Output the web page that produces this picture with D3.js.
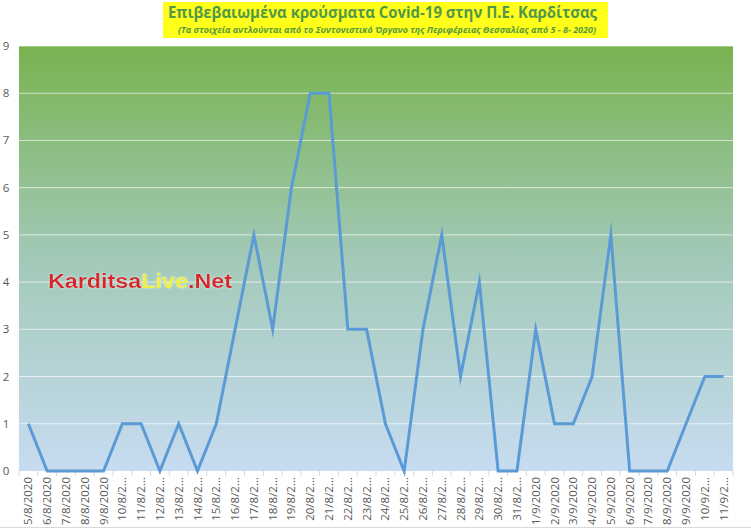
<!DOCTYPE html>
<html><head><meta charset="utf-8">
<script src="https://cdn.jsdelivr.net/npm/d3@7"></script>
<style>body{margin:0;background:#fff;}svg{display:block;font-family:"Open Sans",Calibri,"Liberation Sans",sans-serif;}</style>
</head><body>
<svg id="c" width="751" height="530"></svg>
<script>
const dates = ["5/8/2020","6/8/2020","7/8/2020","8/8/2020","9/8/2020","10/8/2...","11/8/2...","12/8/2...","13/8/2...","14/8/2...","15/8/2...","16/8/2...","17/8/2...","18/8/2...","19/8/2...","20/8/2...","21/8/2...","22/8/2...","23/8/2...","24/8/2...","25/8/2...","26/8/2...","27/8/2...","28/8/2...","29/8/2...","30/8/2...","31/8/2...","1/9/2020","2/9/2020","3/9/2020","4/9/2020","5/9/2020","6/9/2020","7/9/2020","8/9/2020","9/9/2020","10/9/2...","11/9/2..."];
const cases = [1,0,0,0,0,1,1,0,1,0,1,3,5,3,6,8,8,3,3,1,0,3,5,2,4,0,0,3,1,1,2,5,0,0,0,1,2,2];
const yTicks = [0,1,2,3,4,5,6,7,8,9];
const titleText = "Επιβεβαιωμένα κρούσματα Covid-19 στην Π.Ε. Καρδίτσας";
const subtitleText = "(Τα στοιχεία αντλούνται από το Συντονιστικό Όργανο της Περιφέρειας Θεσσαλίας από 5 - 8- 2020)";

const svg = d3.select("#c");
const L = 19, R = 733, T = 46, B = 471;
const x = d3.scaleBand().domain(dates).range([L, R]);
const y = d3.scaleLinear().domain([0, 9]).range([B, T]);

const defs = svg.append("defs");
const g = defs.append("linearGradient").attr("id","bg").attr("x1",0).attr("y1",0).attr("x2",0).attr("y2",1);
g.append("stop").attr("offset","0%").attr("stop-color","#78b350");
g.append("stop").attr("offset","50%").attr("stop-color","#a2c9b8");
g.append("stop").attr("offset","100%").attr("stop-color","#c7dcf1");
const sh = defs.append("filter").attr("id","glow").attr("x","-10%").attr("y","-30%").attr("width","120%").attr("height","160%");
sh.append("feGaussianBlur").attr("in","SourceAlpha").attr("stdDeviation",1.2).attr("result","b");
sh.append("feFlood").attr("flood-color","#ffffff").attr("flood-opacity",0.7);
sh.append("feComposite").attr("in2","b").attr("operator","in").attr("result","s");
const fm = sh.append("feMerge"); fm.append("feMergeNode").attr("in","s"); fm.append("feMergeNode").attr("in","SourceGraphic");

// plot background
svg.append("rect").attr("x",L).attr("y",T).attr("width",R-L).attr("height",B-T).attr("fill","url(#bg)");

// gridlines
svg.append("g").selectAll("line").data(yTicks.filter(d=>d>0)).join("line")
  .attr("x1",L).attr("x2",R).attr("y1",d=>y(d)).attr("y2",d=>y(d))
  .attr("stroke","#ffffff").attr("stroke-opacity",0.65).attr("stroke-width",1);

// y labels
svg.append("g").selectAll("text").data(yTicks).join("text")
  .attr("x",6).attr("y",d=>y(d)+4).attr("text-anchor","middle")
  .attr("font-size",11.5).attr("fill","#595959").text(d=>d);

// x tick marks at band boundaries
const bounds = dates.map(d=>x(d)).concat([R]);
svg.append("g").selectAll("line").data(bounds).join("line")
  .attr("x1",d=>d).attr("x2",d=>d).attr("y1",B).attr("y2",B+5)
  .attr("stroke","#d9d9d9").attr("stroke-width",1);

// x labels
svg.append("g").selectAll("text").data(dates).join("text")
  .attr("transform",d=>`translate(${x(d)+x.bandwidth()/2+4},${B+6}) rotate(-90)`)
  .attr("text-anchor","end").attr("font-size",11.5).attr("fill","#595959").text(d=>d);

// line
const line = d3.line().x((d,i)=>x(dates[i])+x.bandwidth()/2).y(d=>y(d));
svg.append("path").datum(cases).attr("d",line).attr("fill","none")
  .attr("stroke","#5b9bd5").attr("stroke-width",3).attr("stroke-linejoin","miter").attr("stroke-miterlimit",10);

// bottom border
svg.append("line").attr("x1",0).attr("x2",751).attr("y1",527.5).attr("y2",527.5).attr("stroke","#d9d9d9");

// title box
svg.append("rect").attr("x",163).attr("y",2).attr("width",445).attr("height",36).attr("fill","#ffff1a");
svg.append("text").attr("x",168).attr("y",18).attr("font-size",16).attr("font-weight","bold")
  .attr("fill","#52984a").attr("textLength",429).attr("lengthAdjust","spacingAndGlyphs").text(titleText);
svg.append("text").attr("x",178).attr("y",32.5).attr("font-size",9.5).attr("font-weight","bold").attr("font-style","italic")
  .attr("fill","#5a9b3c").attr("textLength",418).attr("lengthAdjust","spacingAndGlyphs").text(subtitleText);

// watermark
const wm = svg.append("text").attr("x",48).attr("y",288).attr("font-size",20).attr("font-weight","bold")
  .attr("font-family","'Liberation Sans',Arial,sans-serif").attr("filter","url(#glow)")
  .attr("textLength",184).attr("lengthAdjust","spacingAndGlyphs");
wm.append("tspan").attr("fill","#d7282a").text("Karditsa");
wm.append("tspan").attr("fill","#eef03c").text("Live");
wm.append("tspan").attr("fill","#d7282a").text(".Net");
</script>
</body></html>
